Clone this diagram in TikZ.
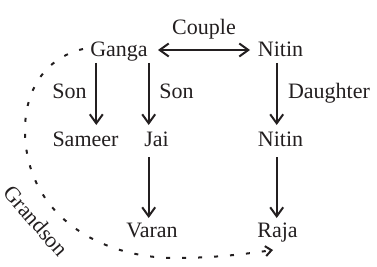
\documentclass[tikz,border=0pt]{standalone}
\usepackage{fontspec}
\setmainfont{Liberation Serif}
\usetikzlibrary{arrows.meta,calc}
\definecolor{ink}{RGB}{35,31,32}
\begin{document}
\begin{tikzpicture}[x=1pt,y=-1pt,
  lbl/.style={anchor=base,inner sep=0pt,text=ink,font=\fontsize{22}{24}\selectfont},
  arr/.style={draw=ink,line width=2pt,-{Straight Barb[length=9pt,width=13pt]}},
  darr/.style={draw=ink,line width=2pt,{Straight Barb[length=9pt,width=13pt]}-{Straight Barb[length=9pt,width=13pt]}},
  dotarr/.style={draw=ink,line width=2pt,dash pattern=on 4pt off 12pt,-{Straight Barb[length=6pt,width=10pt]}}]
\useasboundingbox (0,0) rectangle (377,267);
\node[lbl] (couple) at (204,35) {Couple};
\node[lbl] (ganga) at (119,57) {Ganga};
\node[lbl] (nitin) at (280.5,57) {Nitin};
\node[lbl] (son1) at (69.5,99) {Son};
\node[lbl] (son2) at (176.5,99) {Son};
\node[lbl] (daughter) at (329,99) {Daughter};
\node[lbl] (sameer) at (85.5,146) {Sameer};
\node[lbl] (jai) at (156.5,146) {Jai};
\node[lbl] (nitinb) at (280.5,146) {Nitin};
\node[lbl] (varan) at (152,237) {Varan};
\node[lbl] (raja) at (277.5,237) {Raja};
\node[lbl,anchor=center,rotate=-49] (grandson) at (36,221) {Grandson};
\draw[darr] ($(ganga.base)+(39,-7)$) -- ($(nitin.base)+(-30.5,-7)$);
\draw[arr] ($(ganga.base)+(-22.7,6)$) -- ($(sameer.base)+(10.8,-21)$);
\draw[arr] ($(ganga.base)+(29.7,6)$) -- ($(jai.base)+(-7.8,-21)$);
\draw[arr] ($(nitin.base)+(-3.8,6)$) -- ($(nitinb.base)+(-3.8,-21)$);
\draw[arr] ($(jai.base)+(-7.8,11)$) -- ($(varan.base)+(-3.3,-19)$);
\draw[arr] ($(nitinb.base)+(-3.8,11)$) -- ($(raja.base)+(-0.8,-19)$);
\draw[dotarr] ($(ganga.base)+(-36,-8)$) .. controls (45,58) and (25,90) .. (25,130)
  .. controls (25,215) and (100,258) .. (175,258)
  .. controls (215,258) and (245,254) .. ($(raja.base)+(-4.5,13)$);
\end{tikzpicture}
\end{document}
